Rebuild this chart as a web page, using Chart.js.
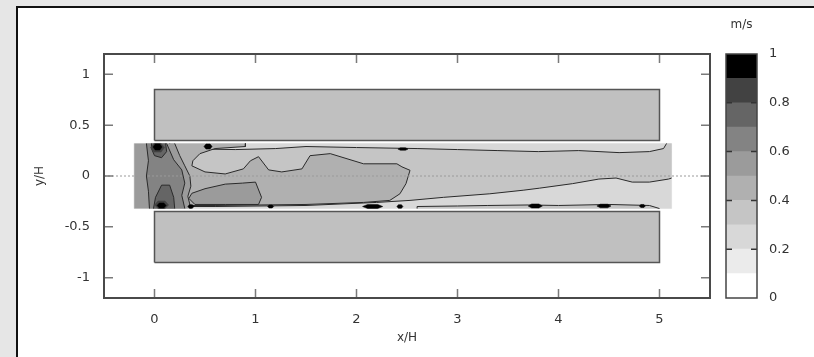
<!DOCTYPE html>
<html>
<head>
<meta charset="utf-8">
<script src="https://cdn.jsdelivr.net/npm/chart.js@4/dist/chart.umd.min.js"></script>
<style>
  html, body { margin: 0; padding: 0; width: 814px; height: 357px; overflow: hidden; background: #e6e6e6; }
  #card { position: absolute; left: 16px; top: 6px; width: 840px; height: 420px; box-sizing: border-box; background: #fff; border: 2px solid #111; }
  #main { position: absolute; left: 0; top: 0; }
  #bar { position: absolute; left: 712px; top: 0; }
</style>
</head>
<body>
<div id="card"></div>
<canvas id="main" width="720" height="357"></canvas>
<canvas id="bar" width="100" height="357"></canvas>
<script>
// axes
const xTicks = [0, 1, 2, 3, 4, 5];
const yTicks = [-1, -0.5, 0, 0.5, 1];
const levelTicks = [0, 0.2, 0.4, 0.6, 0.8, 1];
const levels = [0, 0.1, 0.2, 0.3, 0.4, 0.5, 0.6, 0.7, 0.8, 0.9, 1];
const levelColors = ['#ffffff', '#ebebeb', '#d8d8d8', '#c5c5c5', '#b0b0b0', '#9b9b9b', '#838383', '#656565', '#424242', '#000000'];

// walls (x/H, y/H)
const upperBlock = [[0, 0.35], [5, 0.35], [5, 0.85], [0, 0.85]];
const lowerBlock = [[0, -0.85], [5, -0.85], [5, -0.35], [0, -0.35]];
const zeroLine = [[-0.5, 0], [5.5, 0]];

const strip = [[-0.2, -0.32], [5.12, -0.32], [5.12, 0.32], [-0.2, 0.32]];
const core3 = [[0.15, 0.27], [0.8, 0.26], [1.2, 0.27], [1.5, 0.29], [2.0, 0.28], [2.6, 0.27], [3.0, 0.26], [3.4, 0.25],
  [3.8, 0.24], [4.2, 0.25], [4.6, 0.23], [4.9, 0.24], [5.04, 0.27], [5.07, 0.32], [5.12, 0.32], [5.12, -0.02],
  [5.09, -0.03], [4.9, -0.06], [4.73, -0.06], [4.57, -0.02], [4.4, -0.03], [4.14, -0.075], [3.81, -0.12],
  [3.65, -0.14], [3.32, -0.175], [2.86, -0.21], [2.53, -0.24], [2.2, -0.26], [1.5, -0.29], [0.6, -0.3], [0.15, -0.3]];
const wallBand3 = [[2.6, -0.32], [2.6, -0.3], [3.0, -0.295], [3.3, -0.29], [3.7, -0.285], [4.0, -0.29],
  [4.5, -0.28], [4.9, -0.29], [5.0, -0.32]];
const zone4 = [[0.15, 0.32], [0.9, 0.32], [0.9, 0.29], [0.6, 0.27], [0.45, 0.22], [0.38, 0.15], [0.37, 0.1],
  [0.5, 0.04], [0.7, 0.02], [0.88, 0.07], [0.95, 0.15], [1.03, 0.19], [1.13, 0.06], [1.26, 0.04], [1.46, 0.07],
  [1.54, 0.2], [1.74, 0.22], [2.07, 0.12], [2.4, 0.12], [2.45, 0.09], [2.53, 0.056], [2.49, -0.075],
  [2.43, -0.175], [2.33, -0.24], [2.07, -0.26], [1.5, -0.28], [0.6, -0.29], [0.15, -0.29]];
const inletZone5 = [[-0.2, 0.32], [0.2, 0.32], [0.25, 0.2], [0.3, 0.1], [0.35, 0.0], [0.36, -0.1], [0.33, -0.2],
  [0.36, -0.32], [-0.2, -0.32]];
const patchZone5 = [[0.34, -0.22], [0.37, -0.17], [0.5, -0.125], [0.7, -0.08], [0.87, -0.07], [1.0, -0.06],
  [1.06, -0.21], [1.03, -0.28], [0.7, -0.28], [0.4, -0.28]];
const zone6 = [[-0.08, 0.32], [0.12, 0.32], [0.19, 0.16], [0.27, 0.06], [0.3, -0.07], [0.27, -0.19], [0.3, -0.32],
  [-0.05, -0.32], [-0.06, -0.15], [-0.08, 0.0], [-0.06, 0.15]];
const zone7Top = [[-0.03, 0.32], [0.11, 0.32], [0.12, 0.24], [0.07, 0.18], [0.0, 0.2], [-0.03, 0.27]];
const zone7Bottom = [[0.07, -0.09], [0.15, -0.09], [0.19, -0.21], [0.2, -0.32], [-0.01, -0.32], [0.01, -0.21]];
// spots: [x, y, half width, half height]
const spots8 = [[0.03, 0.28, 0.07, 0.045], [0.07, -0.285, 0.07, 0.04]];
const spots9 = [[0.03, 0.285, 0.045, 0.03], [0.07, -0.29, 0.045, 0.025], [0.53, 0.29, 0.04, 0.025],
  [0.36, -0.3, 0.03, 0.018], [1.15, -0.3, 0.03, 0.015], [2.16, -0.3, 0.1, 0.02], [2.43, -0.3, 0.03, 0.018],
  [2.46, 0.265, 0.05, 0.012], [3.77, -0.295, 0.07, 0.02], [4.45, -0.295, 0.07, 0.018], [4.83, -0.295, 0.03, 0.015]];

const font = { family: 'DejaVu Sans', size: 13 };
const titleFont = { family: 'DejaVu Sans', size: 12 };
const textColor = '#333';
const contourColor = '#2a2a2a';

function closed(arr) {
  return arr.concat([arr[0]]).map(p => ({ x: p[0], y: p[1] }));
}
function blob(s) {
  const [x, y, hw, hh] = s;
  const c = v => Math.max(-0.32, Math.min(0.32, v));
  return [[x - hw, y], [x - hw / 2, c(y + hh)], [x + hw / 2, c(y + hh)], [x + hw, y], [x + hw / 2, c(y - hh)], [x - hw / 2, c(y - hh)]];
}
const onEdge = p => Math.abs(p.y) >= 0.319 || p.x <= -0.199 || p.x >= 5.119;

const layers = [
  { pts: strip, level: 2, lines: false },
  { pts: core3, level: 3 },
  { pts: wallBand3, level: 3 },
  { pts: zone4, level: 4 },
  { pts: inletZone5, level: 5 },
  { pts: patchZone5, level: 5 },
  { pts: zone6, level: 6 },
  { pts: zone7Top, level: 7 },
  { pts: zone7Bottom, level: 7 }
];
spots8.forEach(s => layers.push({ pts: blob(s), level: 8, lines: false }));
spots9.forEach(s => layers.push({ pts: blob(s), level: 9, lines: false }));

const datasets = [];
[upperBlock, lowerBlock].forEach(b => datasets.push({
  data: closed(b), showLine: true, fill: 'shape', backgroundColor: '#c0c0c0',
  borderColor: '#555', borderWidth: 1.5, pointRadius: 0, order: 900
}));
let ord = 800;
layers.forEach(l => {
  // filled band
  datasets.push({
    data: closed(l.pts), showLine: true, fill: 'shape',
    backgroundColor: levelColors[l.level], borderColor: levelColors[l.level],
    borderWidth: l.lines === false ? 0.5 : 0, pointRadius: 0, order: ord--
  });
  // contour line around it, hidden along the edge of the measured strip
  if (l.lines !== false) {
    datasets.push({
      data: closed(l.pts), showLine: true, fill: false,
      borderColor: contourColor, borderWidth: 1, pointRadius: 0,
      segment: { borderColor: c => (onEdge(c.p0.parsed) && onEdge(c.p1.parsed)) ? 'rgba(0,0,0,0)' : contourColor },
      order: ord--
    });
  }
});
datasets.push({
  data: zeroLine.map(p => ({ x: p[0], y: p[1] })), showLine: true, fill: false,
  borderColor: '#9a9a9a', borderWidth: 1, borderDash: [2, 2], pointRadius: 0, order: 0
});

const frameTicks = {
  id: 'frameTicks',
  afterDraw(chart) {
    const { ctx, chartArea: a, scales: { x, y } } = chart;
    ctx.save();
    ctx.strokeStyle = '#7a7a7a';
    ctx.lineWidth = 1.5;
    ctx.beginPath();
    x.ticks.forEach(t => {
      const px = x.getPixelForValue(t.value);
      ctx.moveTo(px, a.bottom); ctx.lineTo(px, a.bottom - 9);
      ctx.moveTo(px, a.top); ctx.lineTo(px, a.top + 9);
    });
    y.ticks.forEach(t => {
      const py = y.getPixelForValue(t.value);
      ctx.moveTo(a.left, py); ctx.lineTo(a.left + 9, py);
      ctx.moveTo(a.right, py); ctx.lineTo(a.right - 9, py);
    });
    ctx.stroke();
    ctx.strokeStyle = '#4a4a4a';
    ctx.lineWidth = 2;
    ctx.strokeRect(a.left, a.top, a.width, a.height);
    ctx.restore();
  }
};

new Chart(document.getElementById('main'), {
  type: 'scatter',
  data: { datasets: datasets },
  options: {
    responsive: false,
    animation: false,
    layout: { padding: { left: 0, top: 54, right: 10, bottom: 9 } },
    plugins: { legend: { display: false }, tooltip: { enabled: false } },
    scales: {
      x: {
        type: 'linear', min: -0.5, max: 5.5,
        grid: { display: false, drawTicks: false }, border: { display: false },
        ticks: { font: font, color: textColor, padding: 14, callback: v => String(v) },
        afterBuildTicks: s => { s.ticks = xTicks.map(v => ({ value: v })); },
        afterFit: s => { s.height = 50; },
        title: { display: true, text: 'x/H', font: titleFont, color: textColor, padding: { top: 0, bottom: 3 } }
      },
      y: {
        type: 'linear', min: -1.2, max: 1.2,
        grid: { display: false, drawTicks: false }, border: { display: false },
        ticks: { font: font, color: textColor, padding: 14, callback: v => String(v) },
        afterBuildTicks: s => { s.ticks = yTicks.map(v => ({ value: v })); },
        afterFit: s => { s.width = 104; },
        title: { display: true, text: 'y/H', font: titleFont, color: textColor, padding: { top: 33, bottom: 0 } }
      }
    }
  },
  plugins: [frameTicks]
});

const barFrame = {
  id: 'barFrame',
  afterDraw(chart) {
    const { ctx, chartArea: a, scales: { y } } = chart;
    ctx.save();
    ctx.strokeStyle = '#333';
    ctx.lineWidth = 1.5;
    ctx.beginPath();
    levelTicks.slice(1, -1).forEach(v => {
      const py = y.getPixelForValue(v);
      ctx.moveTo(a.left, py); ctx.lineTo(a.left + 6, py);
      ctx.moveTo(a.right, py); ctx.lineTo(a.right - 6, py);
    });
    ctx.stroke();
    ctx.strokeStyle = '#444';
    ctx.strokeRect(a.left, a.top, a.width, a.height);
    ctx.restore();
  }
};

new Chart(document.getElementById('bar'), {
  type: 'bar',
  data: {
    labels: ['m/s'],
    datasets: levelColors.map((c, i) => ({
      data: [[levels[i], levels[i + 1]]], backgroundColor: c, borderWidth: 0,
      grouped: false, categoryPercentage: 1, barPercentage: 1
    }))
  },
  options: {
    responsive: false,
    animation: false,
    layout: { padding: { left: 14, top: 0, right: 0, bottom: 59 } },
    plugins: { legend: { display: false }, tooltip: { enabled: false } },
    scales: {
      x: {
        position: 'top',
        grid: { display: false, drawTicks: false }, border: { display: false },
        ticks: { display: false },
        afterFit: s => { s.height = 54; },
        title: { display: true, text: 'm/s', font: titleFont, color: textColor, padding: { top: 18, bottom: 0 } }
      },
      y: {
        position: 'right', min: 0, max: 1,
        grid: { display: false, drawTicks: false }, border: { display: false },
        ticks: { font: font, color: textColor, padding: 12, callback: v => String(Number(v.toFixed(1))) },
        afterBuildTicks: s => { s.ticks = levelTicks.map(v => ({ value: v })); },
        afterFit: s => { s.width = 55; }
      }
    }
  },
  plugins: [barFrame]
});
</script>
</body>
</html>
